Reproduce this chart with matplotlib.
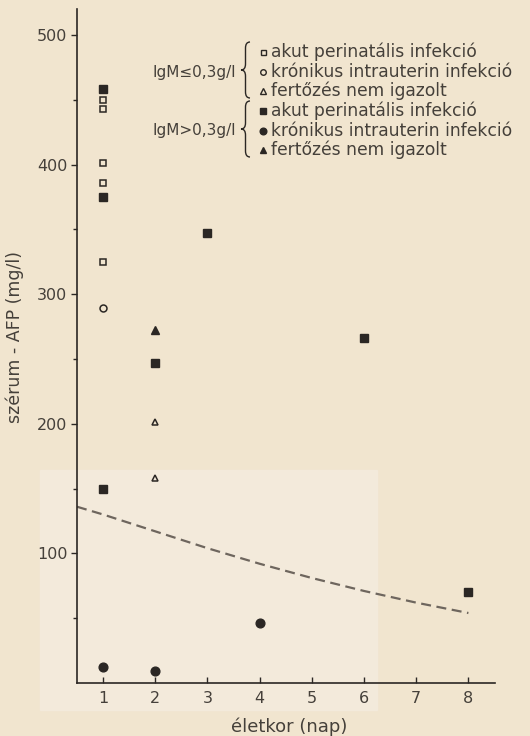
import numpy as np
import matplotlib
matplotlib.use("Agg")
import matplotlib.pyplot as plt
from matplotlib.path import Path
from matplotlib.patches import PathPatch, Rectangle

# data (serum AFP, mg/l vs age, days)
sq_open_x = [1, 1, 1, 1, 1]
sq_open_y = [450, 443, 401, 386, 325]
ci_open_x = [1]
ci_open_y = [289]
tr_open_x = [2, 2]
tr_open_y = [201, 158]
sq_fill_x = [1, 1, 1, 2, 3, 6, 8]
sq_fill_y = [458, 375, 150, 247, 347, 266, 70]
ci_fill_x = [1, 2, 4]
ci_fill_y = [12, 9, 46]
tr_fill_x = [2]
tr_fill_y = [272]

# dashed reference curve
ref_x = [0.5, 1, 2, 3, 4, 5, 6, 7, 8]
ref_y = [136, 130, 117, 104, 92, 81, 71, 62, 54]

x_ticks = [1, 2, 3, 4, 5, 6, 7, 8]
y_ticks = [100, 200, 300, 400, 500]
y_minor = [50, 150, 250, 350, 450]

legend_groups = ["IgM\u22640,3g/l", "IgM>0,3g/l"]
legend_texts = ["akut perinatális infekció",
                "krónikus intrauterin infekció",
                "fertőzés nem igazolt"]

ink = "#2b2724"
txt = "#45403a"
bg = "#f1e5cf"

W, H = 530, 736
fig = plt.figure(figsize=(W / 100, H / 100), dpi=100, facecolor=bg)

def fx(px):
    return px / W

def fy(py):
    return 1 - py / H

ax = fig.add_axes([fx(77), fy(683), fx(494.5) - fx(77), fy(9) - fy(683)])
ax.set_facecolor("none")
ax.set_xlim(0.5, 8.5)
ax.set_ylim(0, 520)

# lighter patch of the scan, behind everything in the axes
ax.add_patch(Rectangle((fx(40), fy(710)), fx(377) - fx(40), fy(470) - fy(710),
                       transform=fig.transFigure, color="#f3eadb", zorder=-10, clip_on=False))

ms = dict(linestyle="none", color=ink, clip_on=False)
ax.plot(sq_open_x, sq_open_y, marker="s", markersize=4.4, mfc="none", mew=1.1, **ms)
ax.plot(ci_open_x, ci_open_y, marker="o", markersize=5, mfc="none", mew=1.1, **ms)
ax.plot(tr_open_x, tr_open_y, marker="^", markersize=5, mfc="none", mew=1.1, **ms)
ax.plot(sq_fill_x, sq_fill_y, marker="s", markersize=6, **ms)
ax.plot(ci_fill_x, ci_fill_y, marker="o", markersize=6.3, **ms)
ax.plot(tr_fill_x, tr_fill_y, marker="^", markersize=5.8, **ms)

ax.plot(ref_x, ref_y, color="#6e665e", lw=1.6, dashes=(4.5, 2.5))

for s in ["top", "right"]:
    ax.spines[s].set_visible(False)
for s in ["left", "bottom"]:
    ax.spines[s].set_color(ink)
    ax.spines[s].set_linewidth(1.2)

ax.set_xticks(x_ticks)
ax.set_xticklabels([str(v) for v in x_ticks])
ax.set_yticks(y_ticks)
ax.set_yticklabels([str(v) for v in y_ticks])
ax.set_yticks(y_minor, minor=True)
ax.tick_params(axis="x", direction="in", length=4, width=1, color=ink, pad=6,
               labelsize=11.5, labelcolor=txt)
ax.tick_params(axis="y", which="major", direction="out", length=4, width=1, color=ink,
               pad=3, labelsize=11.5, labelcolor=txt)
ax.tick_params(axis="y", which="minor", direction="out", length=3, width=1, color=ink)

fig.text(fx(289), fy(727), "életkor (nap)", ha="center", va="center",
         fontsize=13, color=txt)
fig.text(fx(15), fy(337), "szérum - AFP (mg/l)", ha="center", va="center",
         rotation=90, fontsize=12.5, color=txt)

# legend with curly braces
def brace(xt, yt, yb, w=9, r=6):
    xr = xt + w
    xm = xt + w / 2
    ym = (yt + yb) / 2
    pts = [(xr, yt), (xm, yt), (xm, yt + r), (xm, ym - r), (xm, ym), (xt, ym),
           (xm, ym), (xm, ym + r), (xm, yb - r), (xm, yb), (xr, yb)]
    codes = [Path.MOVETO, Path.CURVE3, Path.CURVE3, Path.LINETO, Path.CURVE3, Path.CURVE3,
             Path.CURVE3, Path.CURVE3, Path.LINETO, Path.CURVE3, Path.CURVE3]
    pts = [(fx(a), fy(b)) for a, b in pts]
    fig.patches.append(PathPatch(Path(pts, codes), transform=fig.transFigure,
                                 fill=False, edgecolor=ink, lw=1.0))

rows = [52, 72, 91, 111, 131, 150]
open_mk = [("s", 3.6), ("o", 4), ("^", 4)]
for g in range(2):
    brace(241, rows[3 * g] - 10, rows[3 * g + 2] + 7)
    fig.text(fx(236), fy(rows[3 * g + 1]), legend_groups[g], ha="right", va="center",
             fontsize=11, color=txt)
    for i in range(3):
        mk, sz = open_mk[i]
        yy = rows[3 * g + i]
        if g == 0:
            fig.add_artist(plt.Line2D([fx(263)], [fy(yy)], marker=mk, markersize=sz,
                                      mfc="none", mec=ink, mew=1.0, color=ink))
        else:
            fig.add_artist(plt.Line2D([fx(263)], [fy(yy)], marker=mk, markersize=sz + 0.8,
                                      mfc=ink, mec=ink, color=ink))
        fig.text(fx(271), fy(yy), legend_texts[i], ha="left", va="center",
                 fontsize=12.3, color=txt)

fig.savefig("out.png", dpi=100, facecolor=bg)
